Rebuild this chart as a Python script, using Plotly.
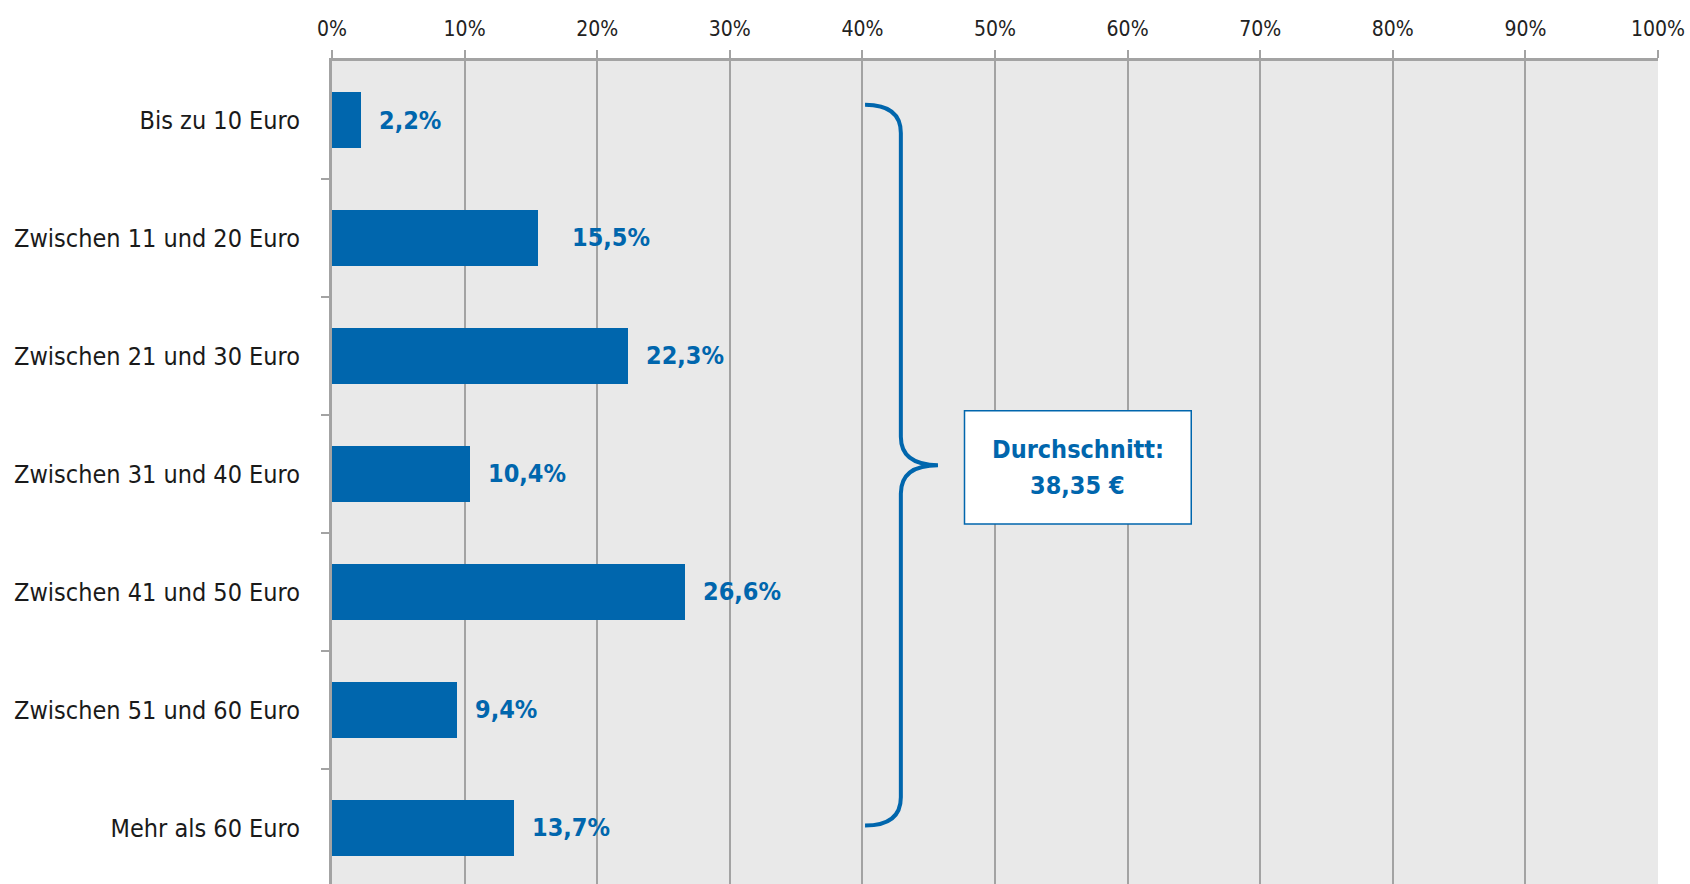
import plotly.graph_objects as go

# ---------------- data ----------------
categories = [
    "Bis zu 10 Euro",
    "Zwischen 11 und 20 Euro",
    "Zwischen 21 und 30 Euro",
    "Zwischen 31 und 40 Euro",
    "Zwischen 41 und 50 Euro",
    "Zwischen 51 und 60 Euro",
    "Mehr als 60 Euro",
]
shares = [2.2, 15.5, 22.3, 10.4, 26.6, 9.4, 13.7]
value_labels = ["2,2%", "15,5%", "22,3%", "10,4%", "26,6%", "9,4%", "13,7%"]
x_tick_values = [0, 10, 20, 30, 40, 50, 60, 70, 80, 90, 100]
x_tick_labels = ["0%", "10%", "20%", "30%", "40%", "50%", "60%", "70%", "80%", "90%", "100%"]
average_lines = ["Durchschnitt:", "38,35 €"]

# ---------------- styling ----------------
BLUE = "#0066AD"
GRID = "#A3A3A3"
BG = "#E9E9E9"
FONT = "DejaVu Sans Condensed, Liberation Sans Narrow, sans-serif"
label_shift = {1: 32}  # extra gap for one label as in the reference

n = len(categories)
pos = list(range(n))

fig = go.Figure()
fig.add_trace(go.Bar(
    x=shares, y=pos, orientation="h",
    marker=dict(color=BLUE, line=dict(width=0)),
    width=0.475, hoverinfo="skip",
))

for i, (v, t) in enumerate(zip(shares, value_labels)):
    fig.add_annotation(
        x=v, y=i, text=t, showarrow=False,
        xanchor="left", yanchor="middle",
        xshift=label_shift.get(i, 16),
        font=dict(family=FONT, size=25, color=BLUE, weight="bold"),
    )

# curly brace spanning all categories
bx_start, bx_line, bx_tip = 40.2, 42.9, 45.7
top, bottom = -0.13, n - 1 - 0.02
mid = (top + bottom) / 2
r = 0.24
path = (
    f"M {bx_start},{top} Q {bx_line},{top} {bx_line},{top + r} "
    f"L {bx_line},{mid - r} Q {bx_line},{mid} {bx_tip},{mid} "
    f"Q {bx_line},{mid} {bx_line},{mid + r} "
    f"L {bx_line},{bottom - r} Q {bx_line},{bottom} {bx_start},{bottom}"
)
fig.add_shape(type="path", path=path, xref="x", yref="y",
              line=dict(color=BLUE, width=4), layer="above")

# average box
box_x0, box_x1, box_y0, box_y1 = 47.7, 64.8, mid - 0.46, mid + 0.5
fig.add_shape(type="rect", x0=box_x0, x1=box_x1, y0=box_y0, y1=box_y1,
              xref="x", yref="y", fillcolor="white",
              line=dict(color=BLUE, width=1.5), layer="above")
for k, line in enumerate(average_lines):
    fig.add_annotation(
        x=(box_x0 + box_x1) / 2, y=(box_y0 + box_y1) / 2, text=line,
        showarrow=False, xanchor="center", yanchor="middle",
        yshift=18 - 36 * k,
        font=dict(family=FONT, size=25, color=BLUE, weight="bold"),
    )

fig.update_layout(
    width=1690, height=884,
    margin=dict(l=332, r=32, t=61, b=0, autoexpand=False),
    paper_bgcolor="white", plot_bgcolor=BG,
    showlegend=False,
    bargap=0,
    xaxis=dict(
        side="top", range=[0, 100],
        tickvals=x_tick_values, ticktext=x_tick_labels,
        ticks="outside", ticklen=8, tickwidth=2, tickcolor=GRID,
        showgrid=True, gridcolor=GRID, gridwidth=2,
        showline=True, linecolor=GRID, linewidth=3,
        zeroline=False, automargin=False,
        tickfont=dict(family=FONT, size=21, color="#222222"),
        ticklabelstandoff=6,
        fixedrange=True,
    ),
    yaxis=dict(
        range=[n - 0.525, -0.5],
        tickvals=pos, ticktext=categories,
        ticks="", showgrid=False, zeroline=False, automargin=False,
        showline=True, linecolor=GRID, linewidth=3,
        minor=dict(tickvals=[i + 0.5 for i in range(n - 1)],
                   ticks="outside", ticklen=8, tickwidth=2,
                   tickcolor=GRID, showgrid=False),
        tickfont=dict(family=FONT, size=25, color="#1a1a1a"),
        ticklabelstandoff=24,
        fixedrange=True,
    ),
)

fig.write_html(
    "out.html",
    config={"displayModeBar": False, "staticPlot": False},
    post_script="document.body.style.margin='0';document.body.style.overflow='hidden';",
)
